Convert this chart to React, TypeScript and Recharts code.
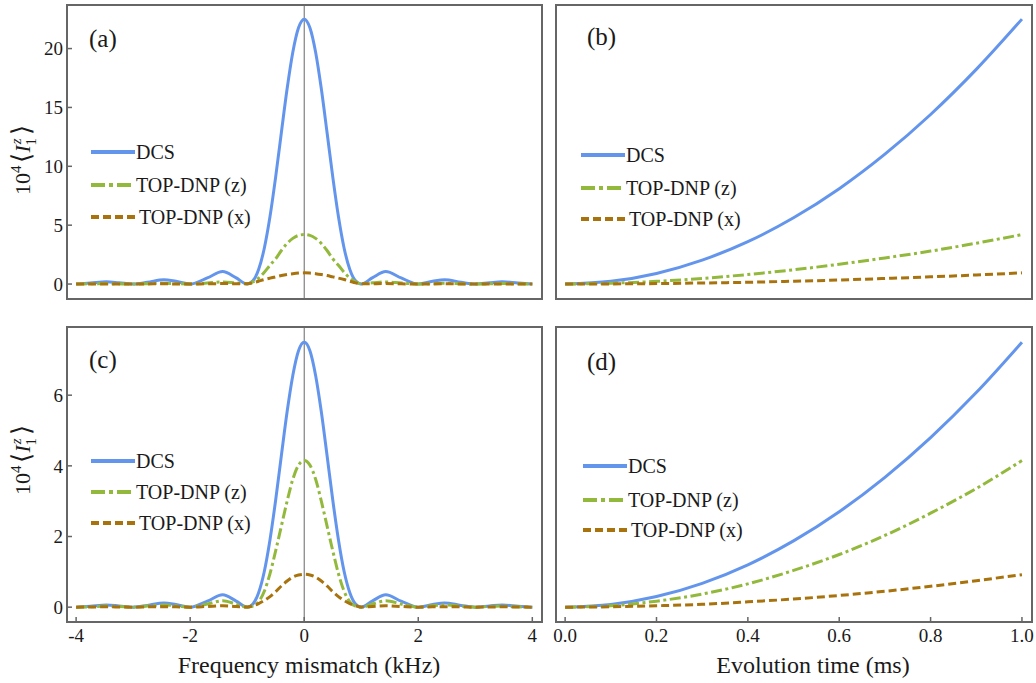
import React from 'react';
import { LineChart, Line, XAxis, YAxis, ReferenceLine, ReferenceArea } from 'recharts';

const FONT = '"Liberation Serif", "Times New Roman", Times, serif';
const INK = '#1a1a1a';
const FRAME = '#666666';
const BLUE = '#6495ED';
const GREEN = '#93B93C';
const BROWN = '#A8720D';

// frequency mismatch (kHz), denser across the main lobe
const freqX = [
  -4, -3.75, -3.47, -3.25, -3, -2.75, -2.46, -2.25, -2, -1.7, -1.43, -1.2,
  -1, -0.9, -0.8, -0.7, -0.6, -0.5, -0.4, -0.3, -0.2, -0.1, 0,
  0.1, 0.2, 0.3, 0.4, 0.5, 0.6, 0.7, 0.8, 0.9, 1,
  1.2, 1.43, 1.7, 2, 2.25, 2.46, 2.75, 3, 3.25, 3.47, 3.75, 4,
];

// panel (a)
const aDcs = [
  0, 0.08, 0.19, 0.11, 0, 0.15, 0.37, 0.23, 0, 0.52, 1.06, 0.55,
  0, 0.27, 1.23, 3.04, 5.73, 9.12, 12.89, 16.58, 19.69, 21.77, 22.5,
  21.77, 19.69, 16.58, 12.89, 9.12, 5.73, 3.04, 1.23, 0.27, 0,
  0.55, 1.06, 0.52, 0, 0.23, 0.37, 0.15, 0, 0.11, 0.19, 0.08, 0,
];
const aTopZ = [
  0, 0.02, 0.04, 0.02, 0, 0.03, 0.07, 0.04, 0, 0.09, 0.18, 0.1,
  0.03, 0.18, 0.5, 1.0, 1.6, 2.15, 2.85, 3.45, 3.88, 4.13, 4.2,
  4.13, 3.88, 3.45, 2.85, 2.15, 1.6, 1.0, 0.5, 0.18, 0.03,
  0.1, 0.18, 0.09, 0, 0.04, 0.07, 0.03, 0, 0.02, 0.04, 0.02, 0,
];
const aTopX = [
  0, 0.01, 0.01, 0.01, 0, 0.01, 0.02, 0.01, 0, 0.02, 0.04, 0.03,
  0.02, 0.1, 0.24, 0.38, 0.5, 0.61, 0.72, 0.81, 0.88, 0.93, 0.95,
  0.93, 0.88, 0.81, 0.72, 0.61, 0.5, 0.38, 0.24, 0.1, 0.02,
  0.03, 0.04, 0.02, 0, 0.01, 0.02, 0.01, 0, 0.01, 0.01, 0.01, 0,
];

// panel (c)
const cDcs = [
  0, 0.027, 0.063, 0.036, 0, 0.05, 0.12, 0.075, 0, 0.17, 0.35, 0.18,
  0, 0.09, 0.41, 1.01, 1.91, 3.04, 4.3, 5.53, 6.56, 7.26, 7.5,
  7.26, 6.56, 5.53, 4.3, 3.04, 1.91, 1.01, 0.41, 0.09, 0,
  0.18, 0.35, 0.17, 0, 0.075, 0.12, 0.05, 0, 0.036, 0.063, 0.027, 0,
];
const cTopZ = [
  0, 0.01, 0.03, 0.02, 0, 0.03, 0.06, 0.04, 0, 0.09, 0.18, 0.09,
  0, 0.03, 0.15, 0.45, 0.95, 1.6, 2.3, 3.0, 3.62, 4.02, 4.15,
  4.02, 3.62, 3.0, 2.3, 1.6, 0.95, 0.45, 0.15, 0.03, 0,
  0.09, 0.18, 0.09, 0, 0.04, 0.06, 0.03, 0, 0.02, 0.03, 0.01, 0,
];
const cTopX = [
  0, 0.005, 0.01, 0.005, 0, 0.008, 0.015, 0.01, 0, 0.02, 0.04, 0.02,
  0.005, 0.04, 0.1, 0.19, 0.3, 0.44, 0.6, 0.74, 0.85, 0.91, 0.93,
  0.91, 0.85, 0.74, 0.6, 0.44, 0.3, 0.19, 0.1, 0.04, 0.005,
  0.02, 0.04, 0.02, 0, 0.01, 0.015, 0.008, 0, 0.005, 0.01, 0.005, 0,
];

// evolution time (ms)
const timeX = [0, 0.1, 0.2, 0.3, 0.4, 0.5, 0.6, 0.7, 0.8, 0.9, 1];

// panel (b)
const bDcs = [0, 0.23, 0.9, 2.03, 3.6, 5.63, 8.1, 11.03, 14.4, 18.23, 22.5];
const bTopZ = [0, 0.07, 0.23, 0.48, 0.81, 1.21, 1.68, 2.22, 2.8, 3.47, 4.2];
const bTopX = [0, 0.01, 0.04, 0.09, 0.15, 0.24, 0.34, 0.47, 0.61, 0.77, 0.95];

// panel (d)
const dDcs = [0, 0.075, 0.3, 0.675, 1.2, 1.875, 2.7, 3.675, 4.8, 6.075, 7.5];
const dTopZ = [0, 0.04, 0.17, 0.37, 0.66, 1.04, 1.49, 2.03, 2.66, 3.36, 4.15];
const dTopX = [0, 0.01, 0.04, 0.08, 0.15, 0.23, 0.33, 0.45, 0.59, 0.75, 0.92];

const freqTicks = [-4, -2, 0, 2, 4];
const timeTicks = [0, 0.2, 0.4, 0.6, 0.8, 1];
const topYTicks = [0, 5, 10, 15, 20];
const bottomYTicks = [0, 2, 4, 6];

const seriesNames = ['DCS', 'TOP-DNP (z)', 'TOP-DNP (x)'];

type Row = { x: number; dcs: number; topz: number; topx: number };

const buildRows = (xs: number[], dcs: number[], z: number[], xx: number[]): Row[] =>
  xs.map((v, i) => ({ x: v, dcs: dcs[i], topz: z[i], topx: xx[i] }));

const tickStyle = { fontSize: 19, fill: INK, fontFamily: FONT };
const tickLine = { stroke: FRAME, strokeWidth: 1.5 };

type PanelProps = {
  left: number;
  top: number;
  width: number;
  height: number;
  margin: { top: number; right: number; bottom: number; left: number };
  rows: Row[];
  xDomain: [number, number];
  xTicks: number[];
  xFormat?: (v: number) => string;
  yDomain: [number, number];
  yTicks: number[];
  xLabels: boolean;
  yLabels: boolean;
  zeroLine?: boolean;
};

function Panel(p: PanelProps) {
  return (
    <div style={{ position: 'absolute', left: p.left, top: p.top }}>
      <LineChart width={p.width} height={p.height} data={p.rows} margin={p.margin}>
        <XAxis
          dataKey="x" type="number" domain={p.xDomain} ticks={p.xTicks} allowDataOverflow interval={0}
          axisLine={false} tickLine={tickLine} tickSize={-5} tickMargin={12}
          tick={p.xLabels ? tickStyle : false} tickFormatter={p.xFormat}
          height={p.xLabels ? 61 : 0}
        />
        <XAxis
          xAxisId="top" orientation="top" dataKey="x" type="number" domain={p.xDomain} ticks={p.xTicks}
          allowDataOverflow interval={0} axisLine={false} tickLine={tickLine} tickSize={-5} tick={false} height={0}
        />
        <YAxis
          type="number" domain={p.yDomain} ticks={p.yTicks} allowDataOverflow interval={0}
          axisLine={false} tickLine={tickLine} tickSize={-5} tickMargin={9}
          tick={p.yLabels ? tickStyle : false} width={p.yLabels ? 67 : 0}
        />
        <YAxis
          yAxisId="right" orientation="right" type="number" domain={p.yDomain} ticks={p.yTicks}
          allowDataOverflow interval={0} axisLine={false} tickLine={tickLine} tickSize={-5} tick={false} width={0}
        />
        {p.zeroLine && <ReferenceLine x={0} stroke={FRAME} strokeWidth={1} />}
        <ReferenceArea
          x1={p.xDomain[0]} x2={p.xDomain[1]} y1={p.yDomain[0]} y2={p.yDomain[1]}
          fill="none" fillOpacity={0} stroke={FRAME} strokeWidth={2}
        />
        <Line dataKey="dcs" type="monotone" stroke={BLUE} strokeWidth={3} dot={false} isAnimationActive={false} />
        <Line dataKey="topz" type="monotone" stroke={GREEN} strokeWidth={3} strokeDasharray="11 3.5 3 3.5" dot={false} isAnimationActive={false} />
        <Line dataKey="topx" type="monotone" stroke={BROWN} strokeWidth={3} strokeDasharray="8 4" dot={false} isAnimationActive={false} />
      </LineChart>
    </div>
  );
}

const legendStyles = [
  { color: BLUE, dash: undefined as string | undefined, textGap: 1 },
  { color: GREEN, dash: '14 4 4 4', textGap: 1 },
  { color: BROWN, dash: '8 4', textGap: 4 },
];

function SeriesLegend({ x0, ys }: { x0: number; ys: number[] }) {
  return (
    <g>
      {seriesNames.map((name, i) => (
        <g key={name}>
          <line x1={x0} x2={x0 + 44} y1={ys[i]} y2={ys[i]} stroke={legendStyles[i].color}
            strokeWidth={4} strokeDasharray={legendStyles[i].dash} />
          <text x={x0 + 44 + legendStyles[i].textGap} y={ys[i] + 7} fontFamily={FONT} fontSize={20} fill={INK}>
            {name}
          </text>
        </g>
      ))}
    </g>
  );
}

function YLabel({ x, y }: { x: number; y: number }) {
  return (
    <text transform={`translate(${x},${y}) rotate(-90)`} textAnchor="middle" fontFamily={FONT} fontSize={22} fill={INK}>
      10<tspan dy={-9} fontSize={15}>4</tspan>
      <tspan dy={9} dx={3} fontSize={26}>⟨</tspan>
      <tspan fontStyle="italic">I</tspan>
      <tspan dy={-9} dx={1} fontSize={15} fontStyle="italic">z</tspan>
      <tspan dx={-7} dy={15} fontSize={15}>1</tspan>
      <tspan dy={-6} dx={3} fontSize={26}>⟩</tspan>
    </text>
  );
}

const fmtTime = (v: number) => v.toFixed(1);

export default function App() {
  const freqDomain: [number, number] = [-4.16, 4.17];
  const timeDomain: [number, number] = [-0.02, 1.022];
  const topDomain: [number, number] = [-1.27, 23.7];
  const bottomDomain: [number, number] = [-0.42, 7.93];

  return (
    <div style={{ position: 'absolute', left: 0, top: 0, width: 1036, height: 683, background: '#fff', overflow: 'hidden' }}>
      <Panel left={0} top={0} width={545} height={300} margin={{ top: 5, right: 3, bottom: 1, left: 0 }}
        rows={buildRows(freqX, aDcs, aTopZ, aTopX)} xDomain={freqDomain} xTicks={freqTicks}
        yDomain={topDomain} yTicks={topYTicks} xLabels={false} yLabels zeroLine />
      <Panel left={545} top={0} width={491} height={300} margin={{ top: 5, right: 4, bottom: 1, left: 11 }}
        rows={buildRows(timeX, bDcs, bTopZ, bTopX)} xDomain={timeDomain} xTicks={timeTicks}
        yDomain={topDomain} yTicks={topYTicks} xLabels={false} yLabels={false} />
      <Panel left={0} top={300} width={545} height={383} margin={{ top: 27, right: 3, bottom: 0, left: 0 }}
        rows={buildRows(freqX, cDcs, cTopZ, cTopX)} xDomain={freqDomain} xTicks={freqTicks}
        yDomain={bottomDomain} yTicks={bottomYTicks} xLabels yLabels zeroLine />
      <Panel left={545} top={300} width={491} height={383} margin={{ top: 27, right: 4, bottom: 0, left: 11 }}
        rows={buildRows(timeX, dDcs, dTopZ, dTopX)} xDomain={timeDomain} xTicks={timeTicks} xFormat={fmtTime}
        yDomain={bottomDomain} yTicks={bottomYTicks} xLabels yLabels={false} />

      <svg width={1036} height={683} style={{ position: 'absolute', left: 0, top: 0, pointerEvents: 'none' }}>
        <g fontFamily={FONT} fontSize={25} fill={INK}>
          <text x={89} y={47}>(a)</text>
          <text x={587} y={45}>(b)</text>
          <text x={89} y={368}>(c)</text>
          <text x={587} y={370}>(d)</text>
        </g>
        <SeriesLegend x0={91} ys={[152, 185, 217]} />
        <SeriesLegend x0={581} ys={[155, 188, 219]} />
        <SeriesLegend x0={91} ys={[461, 492, 523]} />
        <SeriesLegend x0={583} ys={[466, 500, 530]} />
        <YLabel x={30} y={160} />
        <YLabel x={30} y={460} />
        <text x={309} y={673} textAnchor="middle" fontFamily={FONT} fontSize={24} fill={INK}>Frequency mismatch (kHz)</text>
        <text x={813} y={673} textAnchor="middle" fontFamily={FONT} fontSize={24} fill={INK}>Evolution time (ms)</text>
      </svg>
    </div>
  );
}
